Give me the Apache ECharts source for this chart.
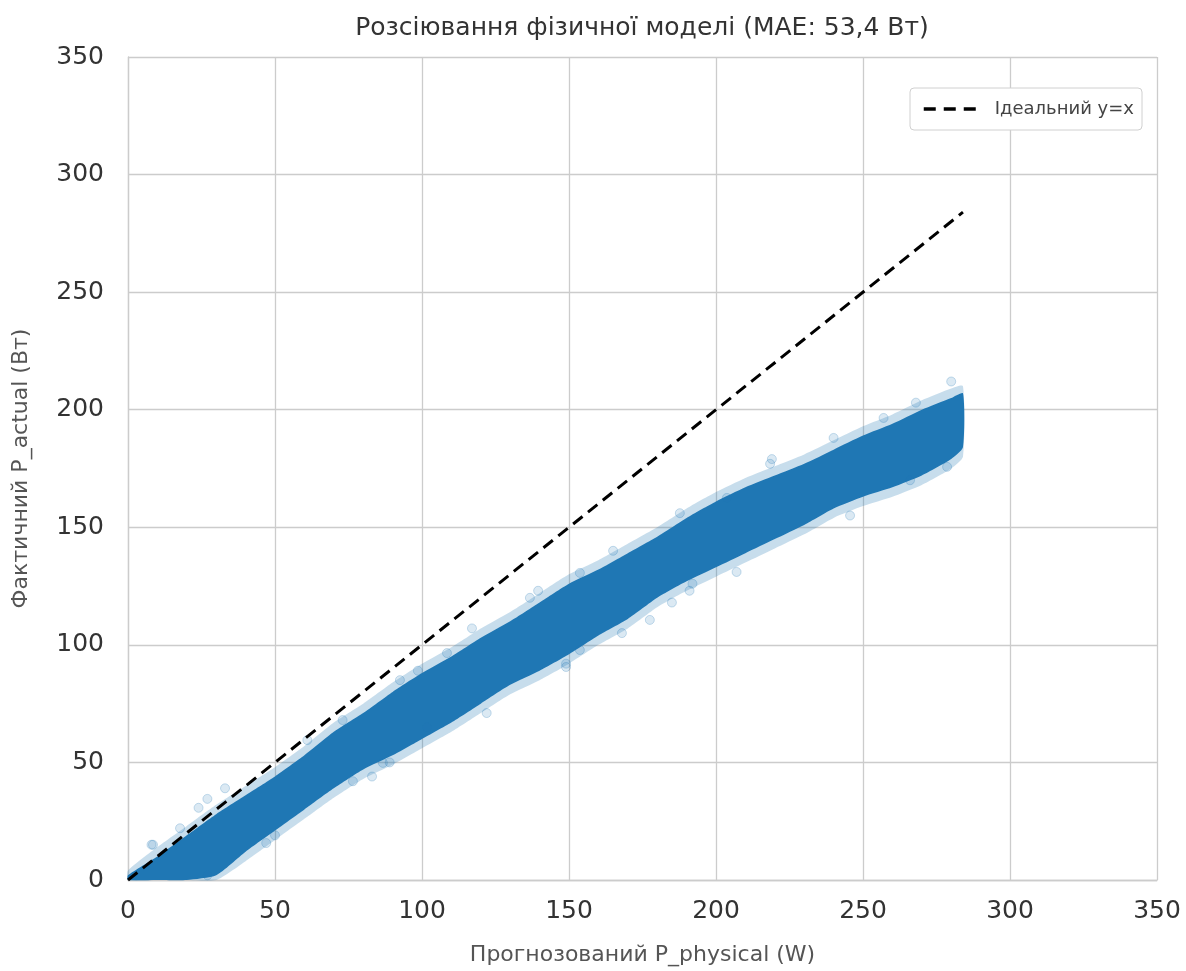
<!DOCTYPE html>
<html>
<head>
<meta charset="utf-8">
<script src="https://cdn.jsdelivr.net/npm/echarts@6/dist/echarts.min.js"></script>
<style>html,body{margin:0;padding:0;background:#fff}#c{width:1186px;height:971px}</style>
</head>
<body>
<div id="c"></div>
<script>
// Band of the dense scatter cloud (x = predicted, y = actual)
const bandX    = [0,10,20,30,40,50,60,70,80,90,100,110,120,130,140,150,160,170,180,190,200,210,220,230,240,250,260,270,280,284];
const coreUp   = [2,10,19,28,36,44,53,63,71,80,88,95,103,110,118,126,132,139,146,154,161,167,172,177,183,189,194,200,205,207];
const coreLow  = [0,0,0,2,12,21,30,39,47,53,60,67,75,83,89,96,104,111,120,127,133,139,145,151,158,163,167,172,179,184];
const haloUp   = [4,14,23,32,40,48,57,67,75,84,92,99,107,114,122,130,136,143,150,158,165,171,176,181,187,193,198,204,209,210];
const haloLow  = [0,0,0,0,8,17,26,35,43,49,56,63,71,79,85,92,100,107,116,123,129,135,141,147,154,159,163,168,175,180];
// Sparse outlying points at the cloud edges
const outliers = [
  [33,39],[27,34.5],[24,30.7],[8.5,15],[47,15.7],[50,19],[27,2],[17.7,22],[8,15],
  [83,44],[89,50],[76.5,42],[117,107],[108.5,96.5],[98.6,89],[92.5,85],[73,68],
  [61,59.5],[101.7,65],[86.7,49.8],[165,140],[153.7,130.6],[139.5,123],[136.7,120],
  [168,105],[177.5,110.6],[153.7,97.8],[149,92],[219,179],[240,188],[207,131],
  [191,123],[187.7,156],[203.7,162.5],[280,212],[268,203],[257,196.5],[266,170],
  [278.6,175.7],[122,71],[149,90.6],[185,118],[192,126],[245.6,155],[218.4,177]
];
const idealLine = [[0,0],[284,284]];
const ticks = [0,50,100,150,200,250,300,350];
const titleText = 'Розсіювання фізичної моделі (MAE: 53,4 Вт)';

const chart = echarts.init(document.getElementById('c'));
function bandSeries(up, low, opacity, z) {
  return {
    type: 'custom', silent: true, z: z,
    data: [[0]],
    renderItem: function (params, api) {
      const pts = [];
      for (let i = 0; i < bandX.length; i++) pts.push(api.coord([bandX[i], up[i]]));
      for (let i = bandX.length - 1; i >= 0; i--) pts.push(api.coord([bandX[i], low[i]]));
      return { type: 'polygon', shape: { points: pts, smooth: 0.2 },
               style: { fill: '#1f77b4', opacity: opacity } };
    }
  };
}
const axisCommon = {
  type: 'value', min: 0, max: 350, interval: 50,
  axisLine: { show: true, lineStyle: { color: '#cccccc', width: 1.3 } },
  axisTick: { show: false },
  splitLine: { show: true, lineStyle: { color: '#cccccc', width: 1.3 } },
  nameLocation: 'middle',
  nameTextStyle: { color: '#555', fontSize: 22, fontFamily: 'DejaVu Sans' }
};
chart.setOption({
  animation: false,
  backgroundColor: '#fff',
  graphic: [{
    type: 'text', x: 642, y: 16, silent: true,
    style: { text: titleText, fontSize: 25, fontFamily: 'DejaVu Sans', fill: '#333',
             textAlign: 'center', textVerticalAlign: 'top' }
  }],
  grid: { left: 128, right: 29, top: 57, bottom: 91 },
  legend: {
    right: 44, top: 88, orient: 'vertical',
    backgroundColor: '#fff', borderColor: '#d0d0d0', borderWidth: 1, borderRadius: 4,
    padding: [12, 8, 12, 12], itemWidth: 56, itemHeight: 12, itemGap: 5,
    textStyle: { fontSize: 18, color: '#444', fontFamily: 'DejaVu Sans', padding: [0, 0, 0, 10] },
    itemStyle: { opacity: 0 },
    lineStyle: { width: 3.5, type: [12, 8], color: '#000' },
    data: [{ name: 'Ідеальний y=x' }]
  },
  xAxis: Object.assign({}, axisCommon, {
    name: 'Прогнозований P_physical (W)', nameGap: 64,
    axisLabel: { color: '#333', fontSize: 25, fontFamily: 'DejaVu Sans', margin: 19,
                 formatter: v => ticks.includes(v) ? String(v) : '' }
  }),
  yAxis: Object.assign({}, axisCommon, {
    name: 'Фактичний P_actual (Вт)', nameGap: 96,
    axisLabel: { color: '#333', fontSize: 25, fontFamily: 'DejaVu Sans', margin: 24,
                 formatter: v => ticks.includes(v) ? String(v) : '' }
  }),
  series: [
    bandSeries(haloUp, haloLow, 0.25, 2),
    bandSeries(coreUp, coreLow, 1, 3),
    {
      type: 'scatter', data: outliers, symbolSize: 9, z: 4, silent: true,
      itemStyle: { color: 'rgba(31,119,180,0.2)', borderColor: 'rgba(31,119,180,0.3)', borderWidth: 1 }
    },
    {
      name: 'Ідеальний y=x', type: 'line', data: idealLine, z: 5,
      showSymbol: false, symbol: 'none',
      lineStyle: { color: '#000', width: 3, type: [12, 7] }
    }
  ]
});
</script>
</body>
</html>
